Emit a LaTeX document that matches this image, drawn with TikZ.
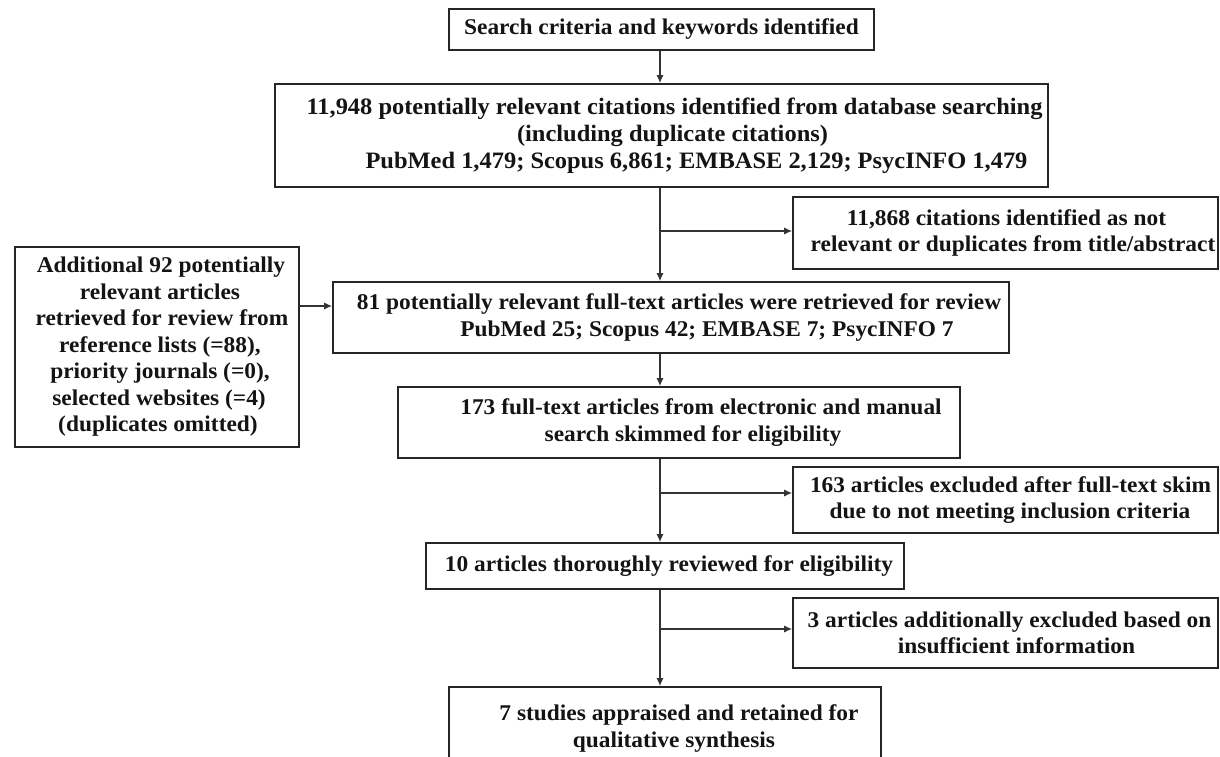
\documentclass[tikz,border=0pt]{standalone}
\usepackage{fontspec}
\setmainfont{Liberation Serif}[FakeStretch=1.04]
\usetikzlibrary{arrows.meta}
\newcommand{\sh}[1]{\hspace*{#1pt}}
\begin{document}
\begin{tikzpicture}[x=1pt,y=-1pt,
  box/.style={draw=black!85,line width=1.6pt,rectangle,inner sep=0pt,align=center,
    font=\fontsize{22.5}{26.5}\selectfont\bfseries,text=black!92},
  big/.style={font=\fontsize{23.5}{27}\selectfont\bfseries},
  arr/.style={draw=black!80,line width=1.4pt,-{Latex[length=8pt,width=7pt]}}]
\clip (0,0) rectangle (1220,757);
\fill[white] (0,0) rectangle (1220,757);
\node[box,minimum width=425pt,minimum height=41pt] (b1) at (661.5,29.5) {Search criteria and keywords identified};
\node[box,big,minimum width=773pt,minimum height=103pt] (b2) at (661.5,135.5) {\sh{26}11,948 potentially relevant citations identified from database searching\\\sh{22}(including duplicate citations)\\\sh{70}PubMed 1,479; Scopus 6,861; EMBASE 2,129; PsycINFO 1,479};
\node[box,minimum width=425pt,minimum height=72pt] (x1) at (1005.5,233) {\sh{2}11,868 citations identified as not\\\sh{15}relevant or duplicates from title/abstract};
\node[box,minimum width=284pt,minimum height=200pt] (ab) at (157,347) {\sh{8}Additional 92 potentially\\\sh{6}relevant articles\\\sh{10}retrieved for review from\\\sh{6}reference lists (=88),\\\sh{6}priority journals (=0),\\\sh{4}selected websites (=4)\\\sh{2}(duplicates omitted)};
\node[box,minimum width=676pt,minimum height=71pt] (b3) at (671,317.5) {\sh{16}81 potentially relevant full-text articles were retrieved for review\\\sh{72}PubMed 25; Scopus 42; EMBASE 7; PsycINFO 7};
\node[box,minimum width=562pt,minimum height=71pt] (b4) at (679,422.5) {\sh{44}173 full-text articles from electronic and manual\\\sh{28}search skimmed for eligibility};
\node[box,minimum width=425pt,minimum height=66pt] (x2) at (1005.5,500) {\sh{10}163 articles excluded after full-text skim\\\sh{9}due to not meeting inclusion criteria};
\node[box,minimum width=478pt,minimum height=46pt] (b5) at (665,566) {\sh{8}10 articles thoroughly reviewed for eligibility};
\node[box,minimum width=425pt,minimum height=70pt] (x3) at (1005.5,633) {\sh{8}3 articles additionally excluded based on\\\sh{22}insufficient information};
\node[box,minimum width=432pt,minimum height=83pt] (b6) at (665,728.5) {\sh{28}7 studies appraised and retained for\\\sh{18}qualitative synthesis};
\coordinate (sp) at (660,0);
\coordinate (e1) at ([yshift=2pt]x1.west);
\coordinate (e0) at ([yshift=11.5pt]b3.west);
\coordinate (e2) at ([yshift=7pt]x2.west);
\coordinate (e3) at ([yshift=4pt]x3.west);
\draw[arr] (b1.south -| sp) -- (b2.north -| sp);
\draw[arr] (b2.south -| sp) -- (b3.north -| sp);
\draw[arr] (sp |- e1) -- (e1);
\draw[arr] (ab.east |- e0) -- (e0);
\draw[arr] (b3.south -| sp) -- (b4.north -| sp);
\draw[arr] (b4.south -| sp) -- (b5.north -| sp);
\draw[arr] (sp |- e2) -- (e2);
\draw[arr] (b5.south -| sp) -- (b6.north -| sp);
\draw[arr] (sp |- e3) -- (e3);
\end{tikzpicture}
\end{document}
